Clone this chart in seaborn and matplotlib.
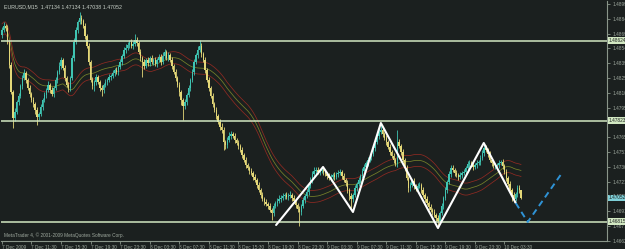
import numpy as np
import pandas as pd
import matplotlib
matplotlib.use("Agg")
import matplotlib.pyplot as plt
import seaborn as sns
from matplotlib.transforms import blended_transform_factory

# ---------------- data ----------------
first_open = 1.4868
close = [
    1.4873, 1.4877, 1.4875, 1.4861, 1.4838, 1.4811, 1.4785, 1.4791, 1.4801, 1.4807,
    1.4817, 1.4825, 1.4830, 1.4823, 1.4815, 1.4809, 1.4803, 1.4799, 1.4793, 1.4786,
    1.4789, 1.4796, 1.4803, 1.4808, 1.4813, 1.4818, 1.4813, 1.4809, 1.4815, 1.4823,
    1.4831, 1.4837, 1.4843, 1.4835, 1.4825, 1.4818, 1.4815, 1.4825, 1.4845, 1.4861,
    1.4873, 1.4881, 1.4885, 1.4882, 1.4877, 1.4867, 1.4857, 1.4841, 1.4823, 1.4817,
    1.4821, 1.4826, 1.4821, 1.4815, 1.4813, 1.4818, 1.4821, 1.4823, 1.4826, 1.4827,
    1.4830, 1.4833, 1.4831, 1.4836, 1.4841, 1.4847, 1.4853, 1.4855, 1.4858, 1.4861,
    1.4857, 1.4859, 1.4863, 1.4860, 1.4851, 1.4845, 1.4841, 1.4837, 1.4843, 1.4840,
    1.4845, 1.4841, 1.4843, 1.4839, 1.4843, 1.4846, 1.4841, 1.4847, 1.4851, 1.4845,
    1.4848, 1.4843, 1.4837, 1.4831, 1.4825, 1.4818, 1.4811, 1.4803, 1.4797, 1.4801,
    1.4808, 1.4815, 1.4823, 1.4831, 1.4841, 1.4848, 1.4853, 1.4857, 1.4849, 1.4843,
    1.4833, 1.4823, 1.4815, 1.4807, 1.4799, 1.4793, 1.4787, 1.4781, 1.4776, 1.4773,
    1.4761, 1.4758, 1.4763, 1.4767, 1.4769, 1.4767, 1.4763, 1.4760, 1.4757, 1.4753,
    1.4748, 1.4743, 1.4738, 1.4735, 1.4732, 1.4730, 1.4726, 1.4723, 1.4718, 1.4713,
    1.4708, 1.4704, 1.4701, 1.4699, 1.4697, 1.4693, 1.4690, 1.4697, 1.4700, 1.4702,
    1.4704, 1.4705, 1.4707, 1.4708, 1.4706, 1.4707, 1.4708, 1.4705, 1.4702, 1.4698,
    1.4694, 1.4691, 1.4697, 1.4703, 1.4707, 1.4711, 1.4717, 1.4723, 1.4729, 1.4732,
    1.4733, 1.4731, 1.4732, 1.4733, 1.4731, 1.4729, 1.4727, 1.4725, 1.4726, 1.4728,
    1.4726, 1.4729, 1.4730, 1.4731, 1.4727, 1.4723, 1.4720, 1.4713, 1.4707, 1.4704,
    1.4708, 1.4715, 1.4719, 1.4723, 1.4727, 1.4732, 1.4736, 1.4740, 1.4743, 1.4746,
    1.4749, 1.4755, 1.4761, 1.4767, 1.4771, 1.4773, 1.4769, 1.4765, 1.4761, 1.4756,
    1.4751, 1.4747, 1.4743, 1.4739, 1.4761, 1.4757, 1.4751, 1.4743, 1.4735, 1.4725,
    1.4715, 1.4718, 1.4722, 1.4717, 1.4714, 1.4717, 1.4718, 1.4713, 1.4708, 1.4704,
    1.4700, 1.4696, 1.4693, 1.4691, 1.4688, 1.4685, 1.4682, 1.4690, 1.4697, 1.4705,
    1.4713, 1.4721, 1.4729, 1.4735, 1.4733, 1.4730, 1.4728, 1.4726, 1.4728, 1.4730,
    1.4731, 1.4735, 1.4739, 1.4740, 1.4738, 1.4736, 1.4738, 1.4740, 1.4741, 1.4745,
    1.4750, 1.4755, 1.4753, 1.4749, 1.4743, 1.4740, 1.4737, 1.4737, 1.4738, 1.4740,
    1.4741, 1.4737, 1.4731, 1.4725, 1.4719, 1.4713, 1.4708, 1.4704, 1.4709, 1.4715,
    1.47134, 1.47052,
]
# wick lengths in pips (0.0001)
upper_wick = [
    3, 4, 2, 3, 2, 3, 2, 4, 2, 3, 2, 3, 4, 2, 2, 3, 2, 3, 2, 3,
    2, 3, 2, 3, 2, 4, 2, 3, 2, 3, 2, 4, 3, 2, 3, 2, 3, 2, 3, 4,
    3, 2, 6, 3, 2, 3, 2, 3, 2, 3, 2, 3, 2, 2, 3, 2, 3, 2, 3, 2,
    3, 2, 3, 2, 3, 2, 3, 4, 3, 2, 3, 3, 6, 3, 2, 3, 2, 3, 2, 3,
    2, 3, 2, 3, 2, 3, 3, 4, 3, 2, 3, 2, 3, 2, 3, 2, 3, 2, 2, 3,
    2, 3, 2, 3, 3, 2, 4, 6, 3, 2, 3, 2, 3, 2, 3, 2, 3, 2, 3, 4,
    3, 2, 3, 4, 3, 2, 3, 2, 3, 2, 3, 2, 3, 2, 2, 3, 2, 3, 2, 3,
    2, 3, 2, 3, 2, 3, 2, 3, 2, 3, 4, 3, 3, 2, 3, 3, 4, 2, 3, 2,
    2, 3, 2, 3, 2, 3, 2, 3, 3, 4, 3, 3, 2, 3, 2, 3, 2, 3, 3, 2,
    3, 2, 3, 3, 2, 3, 2, 3, 2, 3, 2, 3, 2, 3, 2, 3, 3, 2, 3, 2,
    3, 2, 3, 2, 3, 5, 3, 2, 3, 2, 3, 2, 3, 2, 12, 3, 2, 3, 2, 3,
    2, 3, 2, 3, 2, 3, 3, 2, 3, 2, 3, 2, 3, 2, 3, 2, 3, 2, 3, 2,
    3, 2, 3, 3, 3, 2, 3, 2, 3, 2, 3, 2, 3, 3, 2, 3, 2, 3, 2, 3,
    3, 5, 3, 2, 3, 2, 3, 3, 2, 3, 2, 3, 2, 3, 2, 3, 2, 3, 2, 3,
    3, 0,
]
lower_wick = [
    3, 2, 3, 2, 3, 2, 10, 3, 2, 3, 2, 3, 2, 3, 2, 3, 2, 3, 4, 8,
    3, 2, 3, 2, 3, 2, 3, 2, 3, 2, 3, 2, 3, 2, 3, 2, 4, 3, 2, 3,
    2, 3, 2, 3, 2, 3, 2, 3, 2, 3, 5, 3, 2, 3, 6, 3, 2, 3, 2, 3,
    2, 3, 2, 3, 2, 3, 2, 3, 2, 3, 2, 3, 2, 3, 2, 3, 15, 3, 2, 3,
    3, 2, 3, 2, 3, 2, 3, 2, 3, 2, 3, 2, 3, 2, 3, 2, 4, 5, 14, 3,
    3, 2, 3, 2, 3, 2, 3, 2, 3, 2, 3, 2, 3, 2, 3, 2, 3, 2, 3, 3,
    8, 4, 3, 2, 3, 2, 3, 2, 3, 2, 3, 2, 3, 2, 3, 2, 3, 2, 3, 2,
    3, 2, 3, 2, 3, 2, 7, 3, 2, 3, 2, 3, 2, 3, 2, 3, 2, 3, 2, 3,
    3, 14, 3, 2, 3, 2, 3, 2, 3, 2, 3, 2, 3, 2, 3, 2, 3, 2, 3, 2,
    3, 2, 3, 2, 3, 2, 3, 3, 4, 11, 3, 2, 3, 2, 3, 2, 3, 2, 3, 2,
    3, 2, 3, 2, 3, 2, 3, 2, 3, 2, 3, 2, 3, 2, 3, 2, 3, 2, 3, 2,
    4, 3, 2, 3, 2, 3, 2, 3, 2, 3, 2, 3, 2, 3, 2, 3, 7, 3, 2, 3,
    2, 3, 2, 3, 2, 3, 2, 3, 2, 3, 2, 3, 2, 3, 2, 3, 2, 3, 2, 3,
    2, 3, 2, 3, 2, 3, 2, 3, 2, 3, 2, 3, 2, 3, 2, 3, 6, 3, 2, 3,
    3, 1.4,
]

x_tick_labels = ["7 Dec 2009", "7 Dec 11:30", "7 Dec 15:30", "7 Dec 19:30",
                 "7 Dec 23:30", "8 Dec 03:30", "8 Dec 07:30", "8 Dec 11:30",
                 "8 Dec 15:30", "8 Dec 19:30", "8 Dec 23:30", "9 Dec 03:30",
                 "9 Dec 07:30", "9 Dec 11:30", "9 Dec 15:30", "9 Dec 19:30",
                 "9 Dec 23:30", "10 Dec 03:30"]
x_tick_bars = [0, 16, 32, 48, 64, 80, 96, 112, 128, 144, 160, 176, 192, 208,
               224, 240, 256, 272]
y_tick_values = [1.48990, 1.48842, 1.48694, 1.48546, 1.48398, 1.48250, 1.48102,
                 1.47954, 1.47806, 1.47658, 1.47510, 1.47362, 1.47214, 1.47066,
                 1.46918, 1.46770, 1.46622]

levels = [1.48624, 1.47823, 1.46815]
current_price = 1.47052

zigzag_bars = [148.4, 173.8, 190.0, 205.1, 236.0, 260.8, 278.1]
zigzag_prices = [1.4678, 1.4736, 1.4691, 1.4780, 1.4675, 1.4760, 1.4700]
proj_bars = [278.1, 284.6, 303.5]
proj_prices = [1.4700, 1.4681, 1.4731]

ma_period = 34
envelope = 0.0006

title = "EURUSD,M15  1.47134 1.47134 1.47038 1.47052"
copyright_txt = "MetaTrader 4, \u00a9 2001-2009 MetaQuotes Software Corp."

# ---------------- style ----------------
BG = "#1b201f"
BULL = "#3fc4b2"
BEAR = "#e4d878"
LEVEL = "#d2e8c2"
TXT = "#9ea89e"
FRAME = "#8a968a"

sns.set_theme(style="dark", rc={"axes.facecolor": BG, "figure.facecolor": BG,
                                "axes.grid": False})
plt.rcParams["font.family"] = ["Liberation Sans", "DejaVu Sans"]

n = len(close)
idx = np.arange(n)
close_a = np.array(close)
open_a = np.array([first_open] + close[:-1])
high_a = np.maximum(open_a, close_a) + np.array(upper_wick) * 0.0001
low_a = np.minimum(open_a, close_a) - np.array(lower_wick) * 0.0001
colors = [BULL if c >= o else BEAR for o, c in zip(open_a, close_a)]

df = pd.DataFrame({"bar": idx, "close": close_a})
df["ma"] = df["close"].rolling(ma_period, min_periods=1).mean()
df["up"] = df["ma"] + envelope
df["dn"] = df["ma"] - envelope

W, H = 625, 249
fig = plt.figure(figsize=(W / 100, H / 100), dpi=100)
ax = fig.add_axes([1 / W, 8 / H, 606 / W, 240 / H])
ax.set_facecolor(BG)

# moving-average envelope
sns.lineplot(data=df, x="bar", y="up", color="#8e2a22", linewidth=0.55, ax=ax)
sns.lineplot(data=df, x="bar", y="ma", color="#76822a", linewidth=0.55, ax=ax)
sns.lineplot(data=df, x="bar", y="dn", color="#8e2a22", linewidth=0.55, ax=ax)

# candles
ax.vlines(idx, low_a, high_a, colors=colors, linewidth=0.6, zorder=3)
body_lo = np.minimum(open_a, close_a)
body_h = np.maximum(np.abs(close_a - open_a), 0.00006)
ax.bar(idx, body_h, bottom=body_lo, width=0.75, color=colors, linewidth=0, zorder=3)

# horizontal levels
for lv in levels:
    ax.axhline(lv, color=LEVEL, linewidth=1.1, zorder=4)

# pattern lines
sns.lineplot(x=zigzag_bars, y=zigzag_prices, sort=False, color="white",
             linewidth=1.5, ax=ax, zorder=5)
ax.plot(proj_bars, proj_prices, color="#2f93d6", linewidth=1.4,
        dashes=(3.2, 2.2), zorder=5)

ax.set_xlim(-0.5, 327.5)
ax.set_ylim(1.4662, 1.4902)
ax.set_xlabel("")
ax.set_ylabel("")

# axes ticks
ax.yaxis.tick_right()
ax.set_yticks(y_tick_values)
ax.set_yticklabels([f"{v:.5f}" for v in y_tick_values])
ax.set_xticks(x_tick_bars)
ax.set_xticklabels(x_tick_labels, ha="left")
ax.tick_params(axis="y", which="both", right=True, left=False, length=2.5,
               width=0.6, color=FRAME, labelsize=3.4, labelcolor=TXT, pad=1.2)
ax.tick_params(axis="x", which="both", bottom=True, length=2.5, width=0.6,
               color=FRAME, labelsize=3.4, labelcolor=TXT, pad=0.6)
for lbl in ax.get_xticklabels():
    lbl.set_horizontalalignment("left")

for side in ["top", "left"]:
    ax.spines[side].set_visible(False)
for side in ["right", "bottom"]:
    ax.spines[side].set_visible(True)
    ax.spines[side].set_color(FRAME)
    ax.spines[side].set_linewidth(0.8)

# price labels on right axis
tr = blended_transform_factory(ax.transAxes, ax.transData)
for lv in levels:
    ax.text(1.003, lv, f"{lv:.5f}", transform=tr, fontsize=3.4, color="#1b201f",
            va="center", ha="left", clip_on=False, zorder=10,
            bbox=dict(boxstyle="square,pad=0.15", fc=LEVEL, ec="none"))
ax.text(1.003, current_price, f"{current_price:.5f}", transform=tr, fontsize=3.4,
        color="#1b201f", va="center", ha="left", clip_on=False, zorder=10,
        bbox=dict(boxstyle="square,pad=0.15", fc="#7fd0d8", ec="none"))

# texts
ax.text(0.005, 0.985, title, transform=ax.transAxes, fontsize=3.8, color="#c8d0c8",
        va="top", ha="left")
ax.text(0.005, 0.012, copyright_txt, transform=ax.transAxes, fontsize=3.4,
        color=TXT, va="bottom", ha="left")

fig.savefig("out.png", dpi=100, facecolor=BG)
